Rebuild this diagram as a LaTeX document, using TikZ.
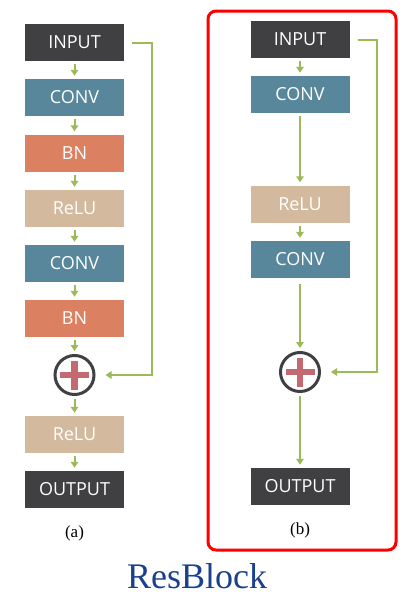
\documentclass[tikz,border=0pt]{standalone}
\usepackage{fontspec}
\setmainfont{Liberation Serif}
\newfontfamily\boxfont{Open Sans}
\usetikzlibrary{arrows.meta}
\definecolor{inkgray}{RGB}{64,64,66}
\definecolor{convblue}{RGB}{88,135,156}
\definecolor{bnorange}{RGB}{219,128,96}
\definecolor{relutan}{RGB}{211,185,157}
\definecolor{flowgreen}{RGB}{155,187,89}
\definecolor{plusred}{RGB}{196,104,114}
\definecolor{titleblue}{RGB}{27,65,140}
\tikzset{
  layer/.style={minimum width=99pt, minimum height=37pt, inner sep=0pt,
    text=white, font=\boxfont\fontsize{18}{18}\selectfont},
  inout/.style={layer, fill=inkgray},
  conv/.style={layer, fill=convblue},
  bn/.style={layer, fill=bnorange},
  relu/.style={layer, fill=relutan},
  adder/.style={circle, draw=inkgray, line width=3pt, minimum size=39pt, inner sep=0pt,
    path picture={\draw[plusred, line width=6.5pt]
      ([xshift=-14.5pt]path picture bounding box.center) -- ([xshift=14.5pt]path picture bounding box.center)
      ([yshift=-14.5pt]path picture bounding box.center) -- ([yshift=14.5pt]path picture bounding box.center);}},
  flow/.style={flowgreen, line width=2pt, -{Triangle[length=6pt,width=7.5pt]},
    shorten <=3pt, shorten >=3pt},
  skip/.style={flowgreen, line width=2pt, -{Triangle[length=6pt,width=7.5pt]},
    shorten <=8pt, shorten >=10pt},
  caption/.style={font=\fontsize{17}{17}\selectfont}
}
\begin{document}
\begin{tikzpicture}[x=1pt, y=-1pt]
  \useasboundingbox (0,0) rectangle (419,597);
  % (a) full block
  \node[inout] (inA) at (74.5,42.5) {INPUT};
  \node[conv] (convA1) at (74.5,97.5) {CONV};
  \node[bn] (bnA1) at (74.5,153) {BN};
  \node[relu] (reluA1) at (74.5,208.5) {ReLU};
  \node[conv] (convA2) at (74.5,263.5) {CONV};
  \node[bn] (bnA2) at (74.5,318.5) {BN};
  \node[adder] (plusA) at (74.5,375) {};
  \node[relu] (reluA2) at (74.5,434.5) {ReLU};
  \node[inout] (outA) at (74.5,489.5) {OUTPUT};
  \node[caption] (capA) at (74.5,533) {(a)};
  \coordinate (skipA) at (152,0);

  \draw[flow] (inA) -- (convA1);
  \draw[flow] (convA1) -- (bnA1);
  \draw[flow] (bnA1) -- (reluA1);
  \draw[flow] (reluA1) -- (convA2);
  \draw[flow] (convA2) -- (bnA2);
  \draw[flow] (bnA2) -- (plusA);
  \draw[flow] (plusA) -- (reluA2);
  \draw[flow] (reluA2) -- (outA);
  \draw[skip] (inA.east) -- (inA.east -| skipA) |- (plusA.east);

  % (b) simplified block
  \draw[red, line width=3pt, rounded corners=8pt] (208,11) rectangle (396,550);
  \node[inout] (inB) at (300,39.5) {INPUT};
  \node[conv] (convB1) at (300,94.5) {CONV};
  \node[relu] (reluB) at (300,204) {ReLU};
  \node[conv] (convB2) at (300,259.5) {CONV};
  \node[adder] (plusB) at (300,372) {};
  \node[inout] (outB) at (300,486.5) {OUTPUT};
  \node[caption] (capB) at (300,530) {(b)};
  \coordinate (skipB) at (377,0);

  \draw[flow] (convB1) -- (reluB);
  \draw[flow] (inB) -- (convB1);
  \draw[flow] (reluB) -- (convB2);
  \draw[flow, shorten <=6pt] (convB2) -- (plusB);
  \draw[flow] (plusB) -- (outB);
  \draw[skip] (inB.east) -- (inB.east -| skipB) |- (plusB.east);

  \node[text=titleblue, font=\fontsize{36}{36}\selectfont, anchor=base] (title) at (197,588) {ResBlock};
\end{tikzpicture}
\end{document}
